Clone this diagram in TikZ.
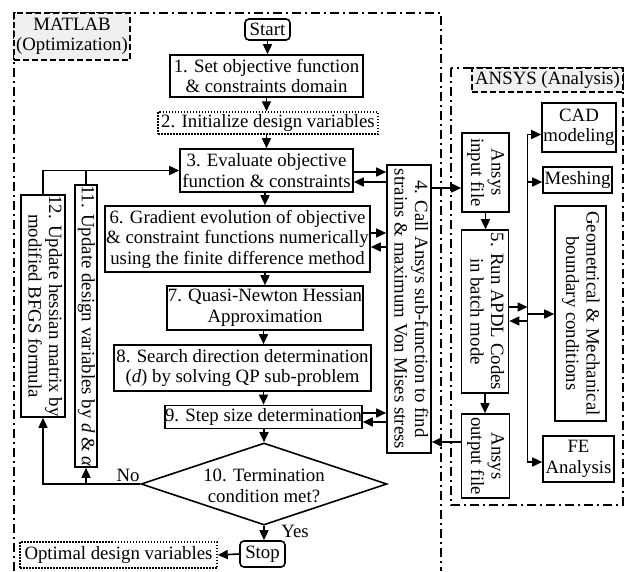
\documentclass[tikz,border=0pt]{standalone}
\usepackage{fontspec}
\setmainfont{Liberation Serif}
\usepackage{graphicx}
\usetikzlibrary{arrows.meta,calc,shapes.geometric}
\newcommand\myvtext[1]{\rotatebox{-90}{\begin{tabular}{@{}c@{}}#1\end{tabular}}}
\begin{document}
\begin{tikzpicture}[x=1pt,y=-1pt,
  font=\fontsize{18.8}{20.5}\selectfont,
  box/.style={draw,line width=1.6pt,inner sep=0pt,align=center},
  vbox/.style={draw,line width=1.6pt,inner sep=0pt},
  term/.style={box,rounded corners=4pt},
  dotbox/.style={box,line width=1.5pt,dash pattern=on 1.5pt off 1.5pt},
  labelbox/.style={box,line width=1.5pt,dash pattern=on 6pt off 3pt,fill=gray!12},
  frame/.style={line width=1.5pt,dash pattern=on 9pt off 4pt on 2pt off 4pt},
  arr/.style={line width=1.6pt,-{Triangle[length=10pt,width=9pt]}},
  lin/.style={line width=1.6pt}
]
\useasboundingbox (0,0) rectangle (627,571);
% frames
\draw[frame] (14,571) -- (14,13) -- (441,13) -- (441,571);
\draw[frame] (451,68) rectangle (623,505);
\node[labelbox,minimum width=116,minimum height=47] (mlab) at (72,36.5) {MATLAB\\(Optimization)};
\node[labelbox,minimum width=151,minimum height=24] (alab) at (547.5,80) {ANSYS (Analysis)};

% main column
\node[term,minimum width=45,minimum height=21] (start) at (267.5,29.5) {Start};
\node[box,minimum width=193,minimum height=42] (n1) at (266.5,76) {1. Set objective function\\\& constraints domain};
\node[dotbox,minimum width=220,minimum height=22] (n2) at (268,123) {2. Initialize design variables};
\node[box,minimum width=173,minimum height=43] (n3) at (266.5,170.5) {3. Evaluate objective\\function \& constraints};
\node[box,minimum width=265,minimum height=66] (n6) at (237.5,239) {6. Gradient evolution of objective\\\& constraint functions numerically\\using the finite difference method};
\node[box,minimum width=196,minimum height=44] (n7) at (265,308) {7. Quasi-Newton Hessian\\Approximation};
\node[box,minimum width=257,minimum height=46] (n8) at (242.5,368) {8. Search direction determination\\(\textit{d}) by solving QP sub-problem};
\node[box,minimum width=197,minimum height=23] (n9) at (263.5,417) {9. Step size determination};
\node[draw,diamond,line width=1.6pt,inner sep=0pt,minimum width=246,minimum height=82] (n10) at (264,484) {};
\node[align=center,inner sep=0pt] (n10t) at (264,486) {10. Termination\\condition met?};
\node[term,minimum width=45,minimum height=26] (stop) at (262.5,554) {Stop};
\node[dotbox,minimum width=197,minimum height=26] (opt) at (118.5,555) {Optimal design variables};
\node[vbox,minimum width=44,minimum height=222] (n12) at (43,306) {\myvtext{12. Update hessian matrix by\\modified BFGS formula}};
\node[vbox,minimum width=22,minimum height=282] (n11) at (86,326) {\myvtext{11. Update design variables by \textit{d} \& \textit{α}}};
\node[vbox,minimum width=44,minimum height=288] (n4) at (409,309) {\myvtext{4. Call Ansys sub-function to find\\strains \& maximum Von Mises stress}};

% ANSYS side
\node[vbox,minimum width=47,minimum height=79] (inp) at (485.5,172.5) {\myvtext{Ansys\\input file}};
\node[vbox,minimum width=47,minimum height=163] (n5) at (485,311.5) {\myvtext{5. Run APDL Codes\\in batch mode}};
\node[vbox,minimum width=48,minimum height=84] (out) at (485.5,456) {\myvtext{Ansys\\output file}};
\node[box,minimum width=74,minimum height=49] (cad) at (579,127.5) {CAD\\modeling};
\node[box,minimum width=69,minimum height=26] (mesh) at (577.5,180) {Meshing};
\node[vbox,minimum width=51,minimum height=215] (geo) at (580.5,313.5) {\myvtext{Geometrical \& Mechanical\\boundary conditions}};
\node[box,minimum width=71,minimum height=46] (fe) at (578.5,459) {FE\\Analysis};

% main chain
\draw[arr] (start.south) -- (start.south |- n1.north);
\draw[arr] (n1.south) -- (n1.south |- n2.north);
\draw[arr] (n3.north |- n2.south) -- (n3.north);
\draw[arr] (n7.north |- n3.south) -- (n7.north |- n6.north);
\draw[arr] (n7.north |- n6.south) -- (n7.north);
\draw[arr] (n9.north |- n7.south) -- (n9.north |- n8.north);
\draw[arr] (n9.north |- n8.south) -- (n9.north);
\draw[arr] (n10.north |- n9.south) -- (n10.north);
\draw[arr] (n10.south) -- (n10.south |- stop.north);
\draw[arr] (stop.west) -- (opt.east);

% loop back
\draw[arr] (n10.west) -| (n12.south);
\draw[arr] (n11.south |- n10.west) -- (n11.south);
\draw[arr] (n12.north) |- (n3.west);
\draw[lin] (n11.north) -- (n11.north |- n3.west);
\node[inner sep=0pt] (no) at (128,475) {No};
\node[inner sep=0pt] (yes) at (295,531) {Yes};

% MATLAB <-> Ansys sub-function
\draw[arr] (n3.east |- 0,172) -- (n4.west |- 0,172);
\draw[arr] (n4.west |- 0,182) -- (n3.east |- 0,182);
\draw[arr] (n6.east |- 0,233) -- (n4.west |- 0,233);
\draw[arr] (n4.west |- 0,247) -- (n6.east |- 0,247);
\draw[arr] (n9.east |- 0,413) -- (n4.west |- 0,413);
\draw[arr] (n4.west |- 0,422) -- (n9.east |- 0,422);
\draw[arr] (n4.east |- 0,188) -- (inp.west |- 0,188);
\draw[arr] (out.west |- 0,442) -- (n4.east |- 0,442);

% ANSYS internals
\draw[arr] (inp.south) -- (inp.south |- n5.north);
\draw[arr] (n5.south) -- (n5.south |- out.north);
\coordinate (bus) at (527.5,300);
\draw[arr] (bus) |- (cad.west |- 0,134.5);
\draw[arr] (bus) |- (fe.west |- 0,462);
\draw[arr] (bus |- 0,182) -- (mesh.west |- 0,182);
\draw[arr] (bus |- 0,314) -- (geo.west |- 0,314);
\draw[arr] (n5.east |- 0,307) -- (bus |- 0,307);
\draw[arr] (bus |- 0,321) -- (n5.east |- 0,321);
\end{tikzpicture}
\end{document}
